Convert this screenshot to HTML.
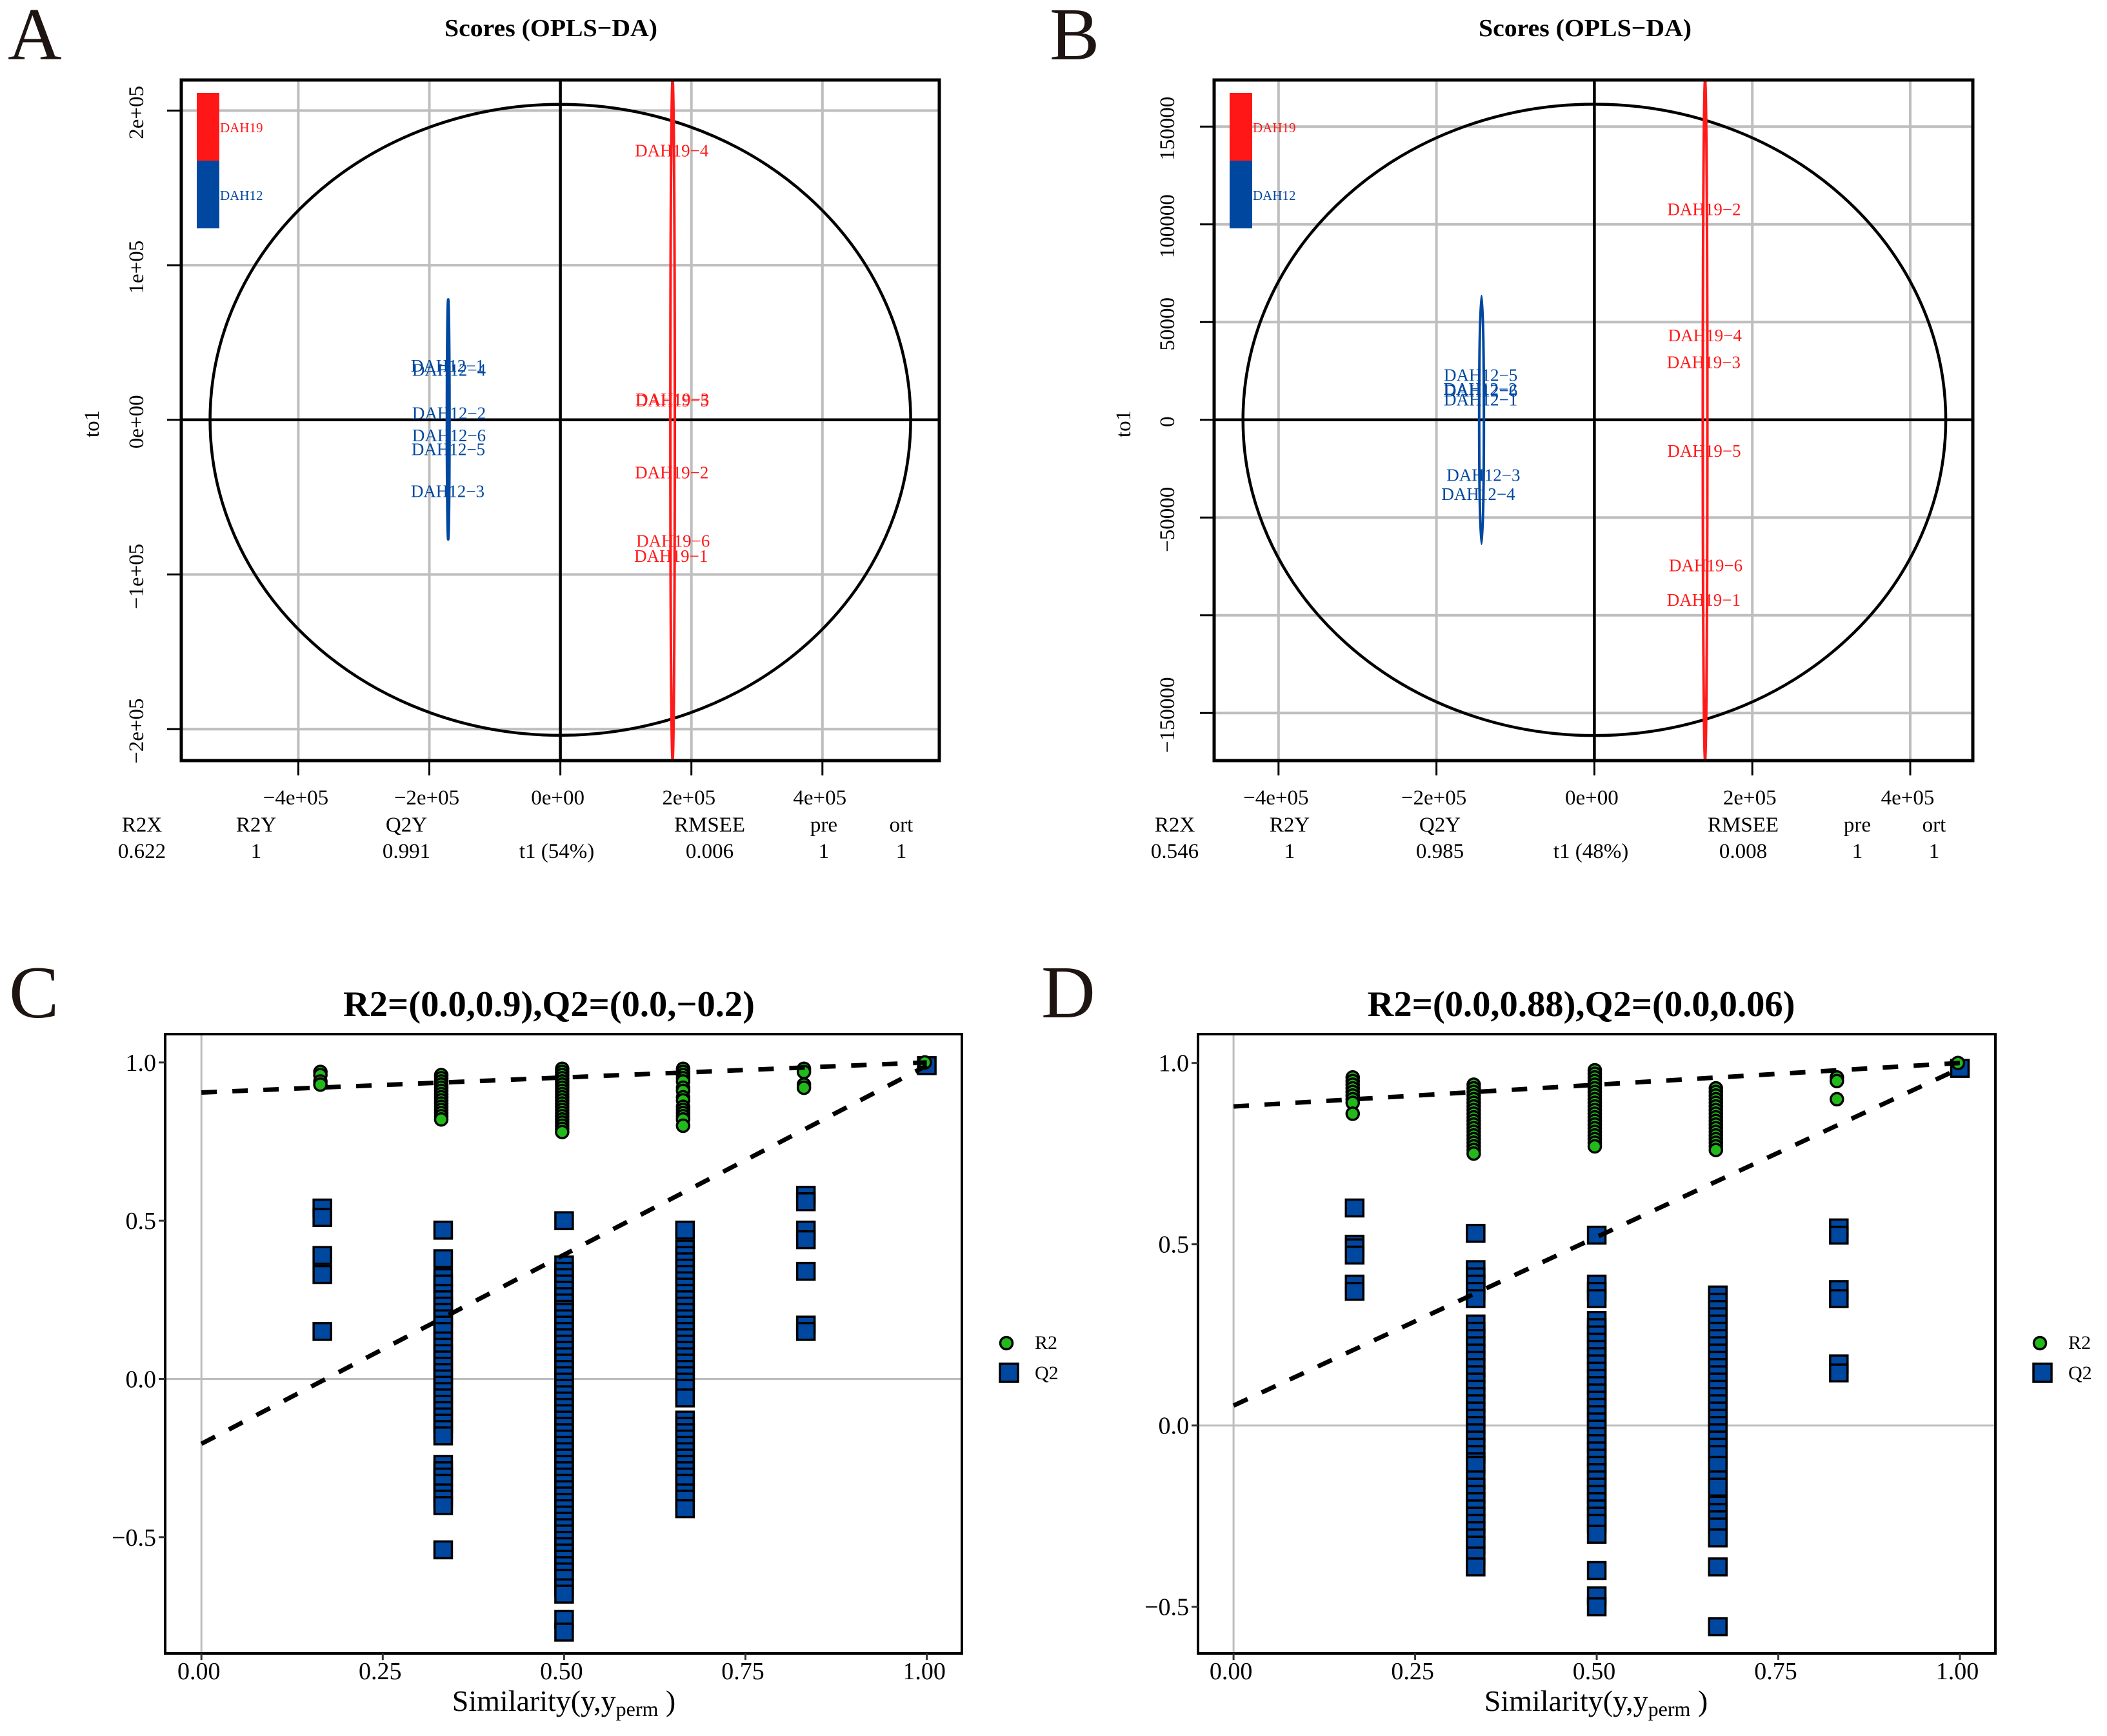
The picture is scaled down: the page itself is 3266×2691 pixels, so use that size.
<!DOCTYPE html>
<html><head><meta charset="utf-8"><title>OPLS-DA scores and permutation tests</title>
<style>
html,body{margin:0;padding:0;background:#fff;}
svg{display:block;font-family:"Liberation Serif","Times New Roman",serif;}
</style></head>
<body>
<svg id="fig" xmlns="http://www.w3.org/2000/svg" width="3266" height="2691" viewBox="0 0 3266 2691">
<rect x="0" y="0" width="3266" height="2691" fill="#fff"/>
<text x="12" y="92" font-size="116" fill="#1e1512">A</text>
<text x="1627" y="92" font-size="116" fill="#1e1512">B</text>
<text x="14" y="1577" font-size="116" fill="#1e1512">C</text>
<text x="1614" y="1577" font-size="116" fill="#1e1512">D</text>
</svg>
<script>
// ---------- Panel A data ----------
const aXTicks = [-400000, -200000, 0, 200000, 400000];
const aXTickLabels = ["\u22124e+05", "\u22122e+05", "0e+00", "2e+05", "4e+05"];
const aYTicks = [-200000, -100000, 0, 100000, 200000];
const aYTickLabels = ["\u22122e+05", "\u22121e+05", "0e+00", "1e+05", "2e+05"];
const aRedNames = ["DAH19\u22124", "DAH19\u22123", "DAH19\u22125", "DAH19\u22122", "DAH19\u22126", "DAH19\u22121"];
const aRedT1 = [170000, 171000, 170500, 170000, 172000, 169000];
const aRedTo1 = [174000, 13300, 12400, -34000, -78400, -88200];
const aBlueNames = ["DAH12\u22121", "DAH12\u22124", "DAH12\u22122", "DAH12\u22126", "DAH12\u22125", "DAH12\u22123"];
const aBlueT1 = [-172000, -170000, -170000, -170000, -171000, -172000];
const aBlueTo1 = [35000, 32300, 4300, -10100, -19100, -46200];
const aStatsHead = ["R2X", "R2Y", "Q2Y", "", "RMSEE", "pre", "ort"];
const aStatsVals = ["0.622", "1", "0.991", "t1 (54%)", "0.006", "1", "1"];
// ---------- Panel B data ----------
const bXTicks = [-400000, -200000, 0, 200000, 400000];
const bXTickLabels = ["\u22124e+05", "\u22122e+05", "0e+00", "2e+05", "4e+05"];
const bYTicks = [-150000, -100000, -50000, 0, 50000, 100000, 150000];
const bYTickLabels = ["\u2212150000", "", "\u221250000", "0", "50000", "100000", "150000"];
const bRedNames = ["DAH19\u22122", "DAH19\u22124", "DAH19\u22123", "DAH19\u22125", "DAH19\u22126", "DAH19\u22121"];
const bRedT1 = [139000, 140000, 138500, 139000, 141000, 138500];
const bRedTo1 = [107700, 43100, 29400, -15900, -74500, -92200];
const bBlueNames = ["DAH12\u22125", "DAH12\u22122", "DAH12\u22126", "DAH12\u22121", "DAH12\u22123", "DAH12\u22124"];
const bBlueT1 = [-144000, -144500, -144000, -144000, -140500, -147000];
const bBlueTo1 = [22900, 15800, 14900, 10300, -28300, -38000];
const bStatsHead = ["R2X", "R2Y", "Q2Y", "", "RMSEE", "pre", "ort"];
const bStatsVals = ["0.546", "1", "0.985", "t1 (48%)", "0.008", "1", "1"];
// ---------- Panel C data ----------
const simLevels = [0.1667, 0.3333, 0.5, 0.6667, 0.8333, 1.0];
const xTicksPerm = [0, 0.25, 0.5, 0.75, 1.0];
const xTickLabelsPerm = ["0.00", "0.25", "0.50", "0.75", "1.00"];
const cYTicks = [-0.5, 0, 0.5, 1.0];
const cYTickLabels = ["\u22120.5", "0.0", "0.5", "1.0"];
const cR2 = [
  [0.97, 0.96, 0.94, 0.93],
  [0.96, 0.95, 0.94, 0.93, 0.92, 0.91, 0.90, 0.89, 0.88, 0.87, 0.86, 0.85, 0.84, 0.83, 0.82],
  [0.98, 0.97, 0.96, 0.95, 0.94, 0.93, 0.92, 0.91, 0.90, 0.89, 0.88, 0.87, 0.86, 0.85, 0.84, 0.83, 0.82, 0.81, 0.80, 0.79, 0.78],
  [0.98, 0.97, 0.96, 0.95, 0.94, 0.92, 0.91, 0.89, 0.88, 0.86, 0.85, 0.84, 0.83, 0.82, 0.80],
  [0.98, 0.97, 0.93, 0.92],
  [1.0]
];
const cQ2 = [
  [0.54, 0.51, 0.39, 0.33, 0.15],
  [0.47, 0.38, 0.32, 0.30, 0.27, 0.25, 0.23, 0.21, 0.19, 0.17, 0.15, 0.12, 0.10, 0.08, 0.06, 0.04, 0.02, 0.00, -0.02, -0.04, -0.06, -0.08, -0.10, -0.12, -0.14, -0.16, -0.18, -0.27, -0.29, -0.31, -0.33, -0.36, -0.38, -0.40, -0.54],
  [0.50, 0.36, 0.34, 0.32, 0.30, 0.28, 0.26, 0.24, 0.22, 0.21, 0.19, 0.17, 0.15, 0.13, 0.11, 0.09, 0.07, 0.05, 0.03, 0.01, -0.01, -0.03, -0.05, -0.07, -0.09, -0.11, -0.13, -0.15, -0.17, -0.19, -0.21, -0.23, -0.25, -0.27, -0.29, -0.31, -0.33, -0.35, -0.37, -0.39, -0.41, -0.43, -0.45, -0.47, -0.49, -0.51, -0.53, -0.55, -0.57, -0.59, -0.61, -0.63, -0.66, -0.68, -0.76, -0.80],
  [0.47, 0.41, 0.39, 0.37, 0.35, 0.33, 0.31, 0.29, 0.27, 0.25, 0.23, 0.21, 0.19, 0.17, 0.15, 0.13, 0.11, 0.09, 0.07, 0.05, 0.03, 0.01, -0.01, -0.03, -0.06, -0.13, -0.15, -0.17, -0.19, -0.21, -0.23, -0.25, -0.27, -0.29, -0.31, -0.33, -0.36, -0.38, -0.41],
  [0.58, 0.56, 0.47, 0.44, 0.34, 0.17, 0.15],
  [0.99]
];
const cR2Line = [0.905, 1.0];
const cQ2Line = [-0.205, 0.99];
// ---------- Panel D data ----------
const dYTicks = [-0.5, 0, 0.5, 1.0];
const dYTickLabels = ["\u22120.5", "0.0", "0.5", "1.0"];
const dR2 = [
  [0.96, 0.95, 0.94, 0.93, 0.92, 0.91, 0.90, 0.89, 0.86],
  [0.94, 0.93, 0.92, 0.91, 0.90, 0.89, 0.88, 0.87, 0.86, 0.85, 0.84, 0.83, 0.82, 0.81, 0.80, 0.79, 0.78, 0.77, 0.76, 0.75],
  [0.98, 0.97, 0.96, 0.95, 0.94, 0.93, 0.92, 0.91, 0.90, 0.89, 0.88, 0.87, 0.86, 0.85, 0.84, 0.83, 0.82, 0.81, 0.80, 0.79, 0.78, 0.77],
  [0.93, 0.92, 0.91, 0.90, 0.89, 0.88, 0.87, 0.86, 0.85, 0.84, 0.83, 0.82, 0.81, 0.80, 0.79, 0.78, 0.77, 0.76],
  [0.96, 0.95, 0.90],
  [1.0]
];
const dQ2 = [
  [0.60, 0.50, 0.49, 0.47, 0.39, 0.37],
  [0.53, 0.43, 0.41, 0.39, 0.37, 0.35, 0.28, 0.26, 0.24, 0.22, 0.20, 0.18, 0.16, 0.14, 0.12, 0.10, 0.08, 0.06, 0.04, 0.02, 0.00, -0.02, -0.04, -0.06, -0.08, -0.10, -0.11, -0.15, -0.17, -0.19, -0.21, -0.23, -0.25, -0.27, -0.29, -0.31, -0.33, -0.36, -0.39],
  [0.525, 0.39, 0.37, 0.35, 0.29, 0.27, 0.25, 0.23, 0.21, 0.19, 0.17, 0.15, 0.13, 0.11, 0.09, 0.07, 0.05, 0.03, 0.01, -0.01, -0.03, -0.05, -0.07, -0.09, -0.11, -0.13, -0.15, -0.17, -0.19, -0.21, -0.23, -0.25, -0.27, -0.30, -0.40, -0.47, -0.50],
  [0.36, 0.34, 0.32, 0.30, 0.28, 0.26, 0.24, 0.22, 0.20, 0.18, 0.16, 0.14, 0.12, 0.10, 0.08, 0.06, 0.04, 0.02, 0.00, -0.02, -0.04, -0.06, -0.08, -0.11, -0.15, -0.17, -0.22, -0.24, -0.26, -0.28, -0.31, -0.39, -0.555],
  [0.545, 0.525, 0.375, 0.35, 0.17, 0.145],
  [0.985]
];
const dR2Line = [0.88, 1.0];
const dQ2Line = [0.055, 0.985];

const NS = "http://www.w3.org/2000/svg";
const svg = document.getElementById("fig");
function mk(tag, attrs, parent) {
  const e = document.createElementNS(NS, tag);
  for (const k in attrs) e.setAttribute(k, attrs[k]);
  (parent || svg).appendChild(e);
  return e;
}
function txt(s, attrs, parent) { const e = mk("text", attrs, parent); e.textContent = s; return e; }

// ---------- Scores panel ----------
function scoresPanel(o) {
  const g = mk("g", {});
  
  
  const X = v => o.x0 + v * o.kx;
  const Y = v => o.y0 - v * o.ky;
  const cid = o.name + "-clip";
  const cp = mk("clipPath", {id: cid}, g);
  mk("rect", {x: o.bx0, y: o.by0, width: o.bx1 - o.bx0, height: o.by1 - o.by0}, cp);
  // grid
  o.xTicks.forEach(t => {
    const l = mk("line", {x1: X(t), x2: X(t), y1: o.by0, y2: o.by1, stroke: "#bebebe", "stroke-width": 4}, g);
    
    
  });
  o.yTicks.forEach(t => {
    const l = mk("line", {x1: o.bx0, x2: o.bx1, y1: Y(t), y2: Y(t), stroke: "#bebebe", "stroke-width": 4}, g);
    
    
  });
  // zero axes
  const zx = mk("line", {x1: X(0), x2: X(0), y1: o.by0, y2: o.by1, stroke: "#000", "stroke-width": 4.5}, g);
  
  
  const zy = mk("line", {x1: o.bx0, x2: o.bx1, y1: Y(0), y2: Y(0), stroke: "#000", "stroke-width": 4.5}, g);
  
  
  // ellipses
  const cg = mk("g", {"clip-path": "url(#" + cid + ")"}, g);
  const big = mk("ellipse", {cx: X(0), cy: Y(0), rx: o.bigRx * o.kx, ry: o.bigRy * o.ky, fill: "none", stroke: "#000", "stroke-width": 4.5}, cg);
  
  
  const re = mk("ellipse", {cx: X(o.redC[0]), cy: Y(o.redC[1]), rx: o.redR[0] * o.kx, ry: o.redR[1] * o.ky, fill: "none", stroke: "#ff1a1a", "stroke-width": 4}, cg);
  
  
  const be = mk("ellipse", {cx: X(o.blueC[0]), cy: Y(o.blueC[1]), rx: o.blueR[0] * o.kx, ry: o.blueR[1] * o.ky, fill: "none", stroke: "#0047a0", "stroke-width": 4}, cg);
  
  
  // sample labels
  o.blueNames.forEach((n, i) => {
    const t = txt(n, {x: X(o.blueT1[i]), y: Y(o.blueTo1[i]), "font-size": 27, fill: "#0047a0", "text-anchor": "middle", "dominant-baseline": "central"}, g);
    
    
  });
  o.redNames.forEach((n, i) => {
    const t = txt(n, {x: X(o.redT1[i]), y: Y(o.redTo1[i]), "font-size": 27, fill: "#ff1a1a", "text-anchor": "middle", "dominant-baseline": "central"}, g);
    
    
  });
  // legend
  const lr = mk("rect", {x: o.legX, y: 144, width: 35, height: 105, fill: "#ff1616"}, g);
  
  
  const lb = mk("rect", {x: o.legX, y: 249, width: 35, height: 105, fill: "#0047a0"}, g);
  
  
  const l1 = txt("DAH19", {x: o.legX + 36, y: 205, "font-size": 21, fill: "#ff1616"}, g);
  
  
  const l2 = txt("DAH12", {x: o.legX + 36, y: 310, "font-size": 21, fill: "#0047a0"}, g);
  
  
  // box
  const box = mk("rect", {x: o.bx0, y: o.by0, width: o.bx1 - o.bx0, height: o.by1 - o.by0, fill: "none", stroke: "#000", "stroke-width": 5}, g);
  
  
  // ticks
  o.xTicks.forEach((t, i) => {
    mk("line", {x1: X(t), x2: X(t), y1: o.by1, y2: o.by1 + 23, stroke: "#000", "stroke-width": 3}, g);
    const tl = txt(o.xTickLabels[i], {x: X(t) - 4, y: 1247, "font-size": 33, "text-anchor": "middle"}, g);
    
    
  });
  o.yTicks.forEach((t, i) => {
    mk("line", {x1: o.bx0 - 22, x2: o.bx0, y1: Y(t), y2: Y(t), stroke: "#000", "stroke-width": 3}, g);
    if (o.yTickLabels[i]) {
      const tl = txt(o.yTickLabels[i], {x: o.ylabX, y: Y(t) + 3, "font-size": 33, "text-anchor": "middle", transform: "rotate(-90 " + o.ylabX + " " + (Y(t) + 3) + ")"}, g);
      
      
    }
  });
  const yt = txt("to1", {x: o.to1X, y: 657, "font-size": 33, "text-anchor": "middle", "dominant-baseline": "central", transform: "rotate(-90 " + o.to1X + " 657)"}, g);
  
  
  const tt = txt("Scores (OPLS\u2212DA)", {x: o.titleX, y: 56, "font-size": 38, "font-weight": "bold", "text-anchor": "middle", textLength: 330, lengthAdjust: "spacingAndGlyphs"}, g);
  
  
  o.statsHead.forEach((s, i) => {
    if (!s) return;
    const e = txt(s, {x: o.statsX[i], y: 1289, "font-size": 33, "text-anchor": "middle"}, g);
    
    
  });
  o.statsVals.forEach((s, i) => {
    const e = txt(s, {x: o.statsX[i], y: 1330, "font-size": 33, "text-anchor": "middle"}, g);
    
    
  });
}

scoresPanel({name: "panel-a-scores", bx0: 281, bx1: 1456, by0: 124, by1: 1179,
  x0: 868.6, kx: 203.1 / 200000, y0: 650.8, ky: 0.002397,
  xTicks: aXTicks, xTickLabels: aXTickLabels, yTicks: aYTicks, yTickLabels: aYTickLabels,
  bigRx: 534700, bigRy: 204000, redC: [171300, 0], redR: [3400, 220000], blueC: [-171200, 300], blueR: [2000, 77600],
  redNames: aRedNames, redT1: aRedT1, redTo1: aRedTo1, blueNames: aBlueNames, blueT1: aBlueT1, blueTo1: aBlueTo1,
  legX: 305, ylabX: 222, to1X: 143, titleX: 854,
  statsHead: aStatsHead, statsVals: aStatsVals, statsX: [220, 397, 630, 863, 1100, 1277, 1397]});

scoresPanel({name: "panel-b-scores", bx0: 1882, bx1: 3058, by0: 124, by1: 1179,
  x0: 2471.4, kx: 244.8 / 200000, y0: 650.8, ky: 0.00303,
  xTicks: bXTicks, xTickLabels: bXTickLabels, yTicks: bYTicks, yTickLabels: bYTickLabels,
  bigRx: 445000, bigRy: 161500, redC: [140200, 0], redR: [2900, 174000], blueC: [-142900, 0], blueR: [3000, 63400],
  redNames: bRedNames, redT1: bRedT1, redTo1: bRedTo1, blueNames: bBlueNames, blueT1: bBlueT1, blueTo1: bBlueTo1,
  legX: 1906, ylabX: 1820, to1X: 1742, titleX: 2457,
  statsHead: bStatsHead, statsVals: bStatsVals, statsX: [1821, 1999, 2232, 2466, 2702, 2879, 2998]});

// ---------- Permutation panel ----------
function permPanel(o) {
  const g = mk("g", {});
  
  
  const X = v => o.x0 + v * o.kx;
  const Y = v => o.y0 - v * o.ky;
  const gv = mk("line", {x1: X(0), x2: X(0), y1: o.by0, y2: o.by1, stroke: "#bdbdbd", "stroke-width": 3}, g);
  
  
  const gh = mk("line", {x1: o.bx0, x2: o.bx1, y1: Y(0), y2: Y(0), stroke: "#bdbdbd", "stroke-width": 3}, g);
  
  
  // Q2 squares
  o.q2.forEach((col, i) => col.forEach(v => {
    const r = mk("rect", {x: X(simLevels[i]) - 13.5, y: Y(v) - 13, width: 27, height: 26, fill: "#0047a0", stroke: "#000", "stroke-width": 3.5}, g);
    
    
  }));
  // R2 circles
  o.r2.forEach((col, i) => col.forEach(v => {
    const c = mk("circle", {cx: X(simLevels[i]) - 3, cy: Y(v), r: 9.5, fill: "#22b91a", stroke: "#000", "stroke-width": 3.5}, g);
    
    
  }));
  const lr2 = mk("line", {x1: X(0), y1: Y(o.r2Line[0]), x2: X(1), y2: Y(o.r2Line[1]), stroke: "#000", "stroke-width": 7, "stroke-dasharray": "24 24"}, g);
  
  
  const lq2 = mk("line", {x1: X(0), y1: Y(o.q2Line[0]), x2: X(1), y2: Y(o.q2Line[1]), stroke: "#000", "stroke-width": 7, "stroke-dasharray": "24 24"}, g);
  
  
  const box = mk("rect", {x: o.bx0, y: o.by0, width: o.bx1 - o.bx0, height: o.by1 - o.by0, fill: "none", stroke: "#000", "stroke-width": 4}, g);
  
  
  xTicksPerm.forEach((t, i) => {
    mk("line", {x1: X(t), x2: X(t), y1: o.by1, y2: o.by1 + 10, stroke: "#333", "stroke-width": 3}, g);
    const tl = txt(xTickLabelsPerm[i], {x: X(t) - 4, y: 2603, "font-size": 38, "text-anchor": "middle"}, g);
    
    
  });
  o.yTicks.forEach((t, i) => {
    mk("line", {x1: o.bx0 - 10, x2: o.bx0, y1: Y(t), y2: Y(t), stroke: "#333", "stroke-width": 3}, g);
    const tl = txt(o.yTickLabels[i], {x: o.bx0 - 14, y: Y(t) + 13, "font-size": 38, "text-anchor": "end"}, g);
    
    
  });
  const tt = txt(o.title, {x: o.titleX, y: 1575, "font-size": 56, "font-weight": "bold", "text-anchor": "middle", textLength: o.titleW, lengthAdjust: "spacingAndGlyphs"}, g);
  
  
  const xt = mk("text", {x: o.xTitleX, y: 2652, "font-size": 46, "text-anchor": "middle"}, g);
  
  
  const t1 = mk("tspan", {}, xt); t1.textContent = "Similarity(y,y";
  const t2 = mk("tspan", {"font-size": 32, dy: 8}, xt); t2.textContent = "perm";
  const t3 = mk("tspan", {dy: -8}, xt); t3.textContent = " )";
  const lc = mk("circle", {cx: o.legX, cy: 2082, r: 9.5, fill: "#22b91a", stroke: "#000", "stroke-width": 3.5}, g);
  
  
  const ls = mk("rect", {x: o.legX - 10, y: 2114, width: 28, height: 28, fill: "#0047a0", stroke: "#000", "stroke-width": 3.5}, g);
  
  
  const la = txt("R2", {x: o.legX + 44, y: 2091, "font-size": 30}, g);
  
  
  const lb = txt("Q2", {x: o.legX + 44, y: 2138, "font-size": 30}, g);
  
  
}

permPanel({name: "panel-c-permutation", bx0: 256, bx1: 1491, by0: 1603, by1: 2563,
  x0: 312.2, kx: 1124.4, y0: 2137.5, ky: 490.6, r2: cR2, q2: cQ2, r2Line: cR2Line, q2Line: cQ2Line,
  yTicks: cYTicks, yTickLabels: cYTickLabels, title: "R2=(0.0,0.9),Q2=(0.0,\u22120.2)", titleX: 851, titleW: 638,
  xTitleX: 874, legX: 1560});

permPanel({name: "panel-d-permutation", bx0: 1857, bx1: 3093, by0: 1603, by1: 2563,
  x0: 1912.1, kx: 1125.9, y0: 2209.7, ky: 562, r2: dR2, q2: dQ2, r2Line: dR2Line, q2Line: dQ2Line,
  yTicks: dYTicks, yTickLabels: dYTickLabels, title: "R2=(0.0,0.88),Q2=(0.0,0.06)", titleX: 2451, titleW: 663,
  xTitleX: 2474, legX: 3162});
</script>
</body></html>
